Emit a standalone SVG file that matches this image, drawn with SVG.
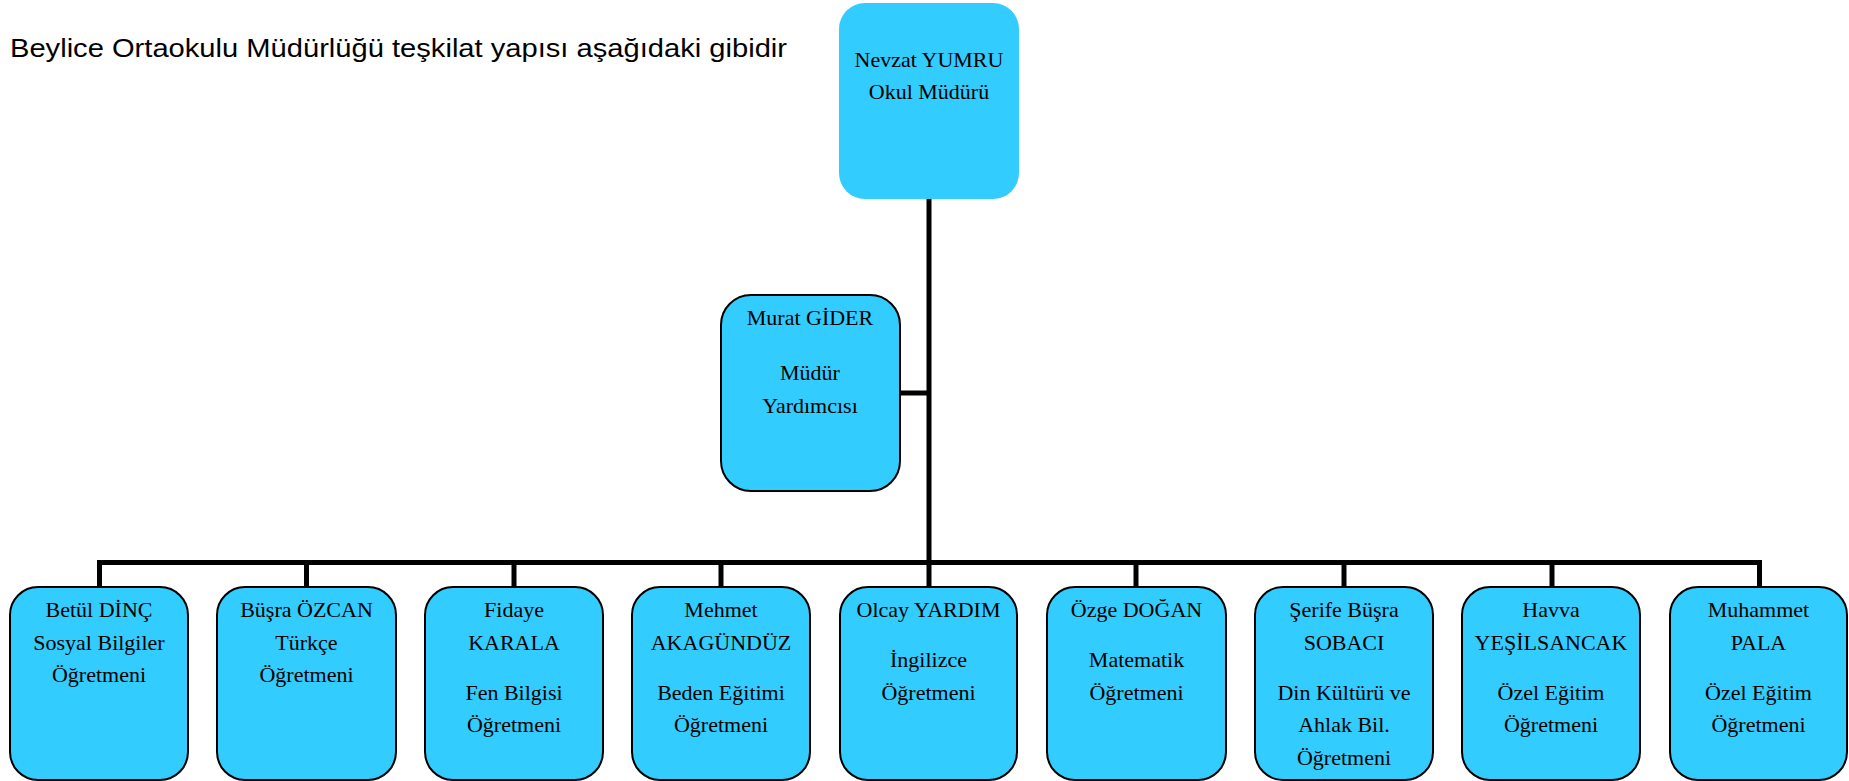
<svg xmlns="http://www.w3.org/2000/svg" width="1849" height="781" viewBox="0 0 1849 781">
<style>
.box{fill:#33CCFF;stroke:#000;stroke-width:2}
.top{fill:#33CCFF;stroke:none}
.t{font-family:"Liberation Serif","Times New Roman",serif;font-size:22px;fill:#000;text-anchor:middle}
.title{font-family:"Liberation Sans",Arial,sans-serif;font-size:26px;fill:#000}
.c{stroke:#000;stroke-width:5;fill:none}
</style>
<rect width="1849" height="781" fill="#fff"/>
<text class="title" x="10" y="57" textLength="777" lengthAdjust="spacingAndGlyphs">Beylice Ortaokulu Müdürlüğü teşkilat yapısı aşağıdaki gibidir</text>
<g id="connectors">
<line class="c" x1="929" y1="199" x2="929" y2="565"/>
<line class="c" x1="899" y1="393" x2="929" y2="393"/>
<line class="c" x1="97" y1="562.5" x2="1762" y2="562.5"/>
<line class="c" x1="99.5" y1="562" x2="99.5" y2="587"/>
<line class="c" x1="306.5" y1="562" x2="306.5" y2="587"/>
<line class="c" x1="514" y1="562" x2="514" y2="587"/>
<line class="c" x1="721" y1="562" x2="721" y2="587"/>
<line class="c" x1="1136" y1="562" x2="1136" y2="587"/>
<line class="c" x1="929" y1="562" x2="929" y2="587"/>
<line class="c" x1="1344" y1="562" x2="1344" y2="587"/>
<line class="c" x1="1552" y1="562" x2="1552" y2="587"/>
<line class="c" x1="1759.5" y1="562" x2="1759.5" y2="587"/>
</g>
<g id="n-mudur">
<rect class="top" x="839" y="3" width="180" height="196" rx="26"/>
<text class="t" x="929" y="67">Nevzat YUMRU</text>
<text class="t" x="929" y="99">Okul Müdürü</text>
</g>
<g id="n-yardimci">
<rect class="box" x="721" y="295" width="179" height="196" rx="30"/>
<text class="t" x="810" y="325">Murat GİDER</text>
<text class="t" x="810" y="380">Müdür</text>
<text class="t" x="810" y="413">Yardımcısı</text>
</g>
<g id="n1">
<rect class="box" x="10" y="587" width="178" height="193" rx="28"/>
<text class="t" x="99" y="617">Betül DİNÇ</text>
<text class="t" x="99" y="650">Sosyal Bilgiler</text>
<text class="t" x="99" y="682">Öğretmeni</text>
</g>
<g id="n2">
<rect class="box" x="217" y="587" width="179" height="193" rx="28"/>
<text class="t" x="306.5" y="617">Büşra ÖZCAN</text>
<text class="t" x="306.5" y="650">Türkçe</text>
<text class="t" x="306.5" y="682">Öğretmeni</text>
</g>
<g id="n3">
<rect class="box" x="425" y="587" width="178" height="193" rx="28"/>
<text class="t" x="514" y="617">Fidaye</text>
<text class="t" x="514" y="650">KARALA</text>
<text class="t" x="514" y="700">Fen Bilgisi</text>
<text class="t" x="514" y="732">Öğretmeni</text>
</g>
<g id="n4">
<rect class="box" x="632" y="587" width="178" height="193" rx="28"/>
<text class="t" x="721" y="617">Mehmet</text>
<text class="t" x="721" y="650">AKAGÜNDÜZ</text>
<text class="t" x="721" y="700">Beden Eğitimi</text>
<text class="t" x="721" y="732">Öğretmeni</text>
</g>
<g id="n5">
<rect class="box" x="840" y="587" width="177" height="193" rx="28"/>
<text class="t" x="928.5" y="617">Olcay YARDIM</text>
<text class="t" x="928.5" y="667">İngilizce</text>
<text class="t" x="928.5" y="700">Öğretmeni</text>
</g>
<g id="n6">
<rect class="box" x="1047" y="587" width="179" height="193" rx="28"/>
<text class="t" x="1136.5" y="617">Özge DOĞAN</text>
<text class="t" x="1136.5" y="667">Matematik</text>
<text class="t" x="1136.5" y="700">Öğretmeni</text>
</g>
<g id="n7">
<rect class="box" x="1255" y="587" width="178" height="193" rx="28"/>
<text class="t" x="1344" y="617">Şerife Büşra</text>
<text class="t" x="1344" y="650">SOBACI</text>
<text class="t" x="1344" y="700">Din Kültürü ve</text>
<text class="t" x="1344" y="732">Ahlak Bil.</text>
<text class="t" x="1344" y="765">Öğretmeni</text>
</g>
<g id="n8">
<rect class="box" x="1462" y="587" width="178" height="193" rx="28"/>
<text class="t" x="1551" y="617">Havva</text>
<text class="t" x="1551" y="650">YEŞİLSANCAK</text>
<text class="t" x="1551" y="700">Özel Eğitim</text>
<text class="t" x="1551" y="732">Öğretmeni</text>
</g>
<g id="n9">
<rect class="box" x="1670" y="587" width="177" height="193" rx="28"/>
<text class="t" x="1758.5" y="617">Muhammet</text>
<text class="t" x="1758.5" y="650">PALA</text>
<text class="t" x="1758.5" y="700">Özel Eğitim</text>
<text class="t" x="1758.5" y="732">Öğretmeni</text>
</g>
</svg>
